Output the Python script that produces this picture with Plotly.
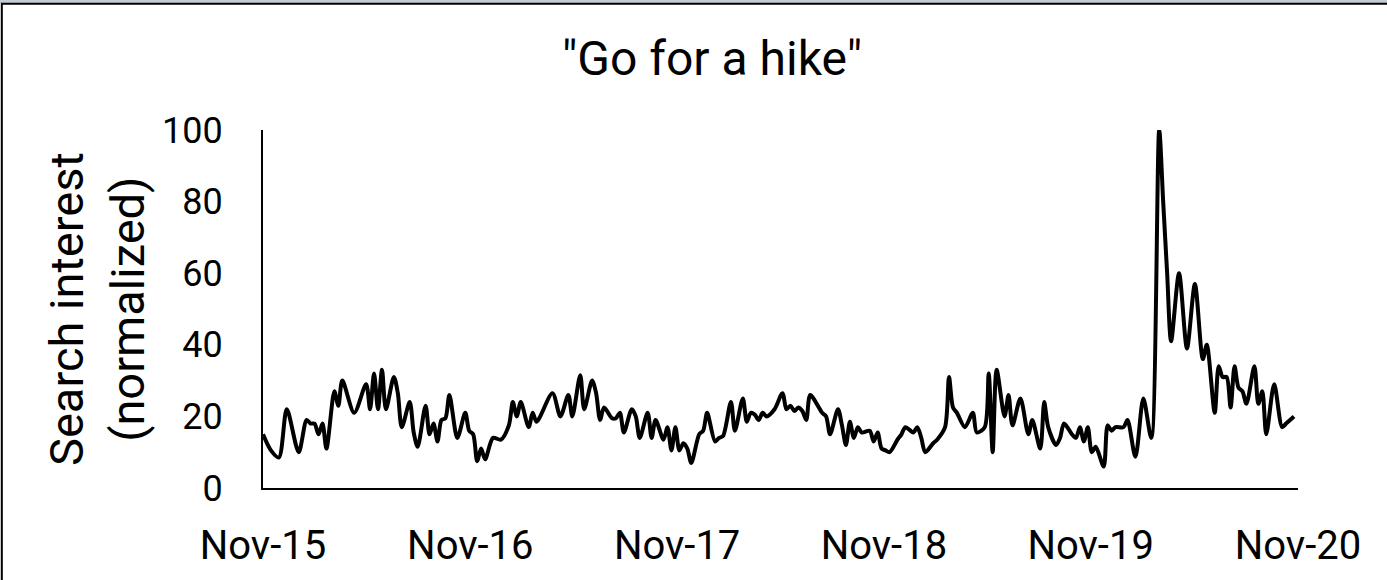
import pandas as pd
import plotly.graph_objects as go

# Weekly Google-Trends style series (week number since 2015-11-08, value)
start_date = "2015-11-08"
week_number = [0, 2, 4, 6, 9, 11, 12, 13, 14, 15, 16, 18, 19, 20, 23, 26, 27, 28, 29, 30, 31,
               33, 34, 35, 37, 38, 39, 41, 42, 43, 44, 45, 46, 47, 49, 51, 52, 53, 54, 55, 56,
               58, 60, 62, 63, 64, 65, 67, 68, 69, 73, 75, 77, 78, 80, 81, 83, 84, 85, 86, 88,
               89, 90, 91, 93, 94, 95, 97, 98, 99, 101, 102, 103, 104, 105, 106, 107, 108, 110,
               111, 112, 114, 115, 116, 118, 119, 121, 122, 123, 124, 125, 126, 127, 129, 131,
               132, 133, 134, 135, 136, 137, 138, 141, 142, 143, 145, 146, 147, 148, 149, 150,
               151, 153, 154, 155, 156, 157, 158, 160, 161, 162, 164, 165, 166, 167, 169, 170,
               172, 173, 174, 175, 177, 179, 180, 182, 183, 184, 185, 187, 188, 189, 191, 193,
               194, 196, 197, 198, 200, 201, 202, 204, 205, 206, 207, 208, 209, 210, 212, 213,
               214, 215, 217, 218, 220, 222, 224, 226, 227, 228, 229, 231, 233, 235, 237, 238,
               240, 241, 242, 243, 244, 245, 246, 247, 248, 250, 251, 252, 253, 255, 257, 258,
               259, 260]
search_interest = [15, 10.5, 8.5, 22, 10, 19, 18, 18, 15, 18, 11, 27, 23, 30, 21, 29, 22, 32, 22, 33, 22,
                   31, 26.5, 17, 24, 15.5, 11.5, 23, 15, 18, 13, 19, 19.5, 26, 14, 21, 16, 15, 7.5, 11, 8,
                   14, 13.5, 17.5, 24, 20, 24, 17, 21, 18.5, 26.5, 20, 26, 20, 31.5, 22, 30, 26.5, 19, 22.5, 19.5,
                   19.5, 21, 15.5, 22, 20, 14, 21, 14, 19, 13.5, 17, 10.5, 17, 10.5, 12.5, 11, 7, 15,
                   16, 21, 13, 14, 14.5, 24, 16, 25, 18.5, 21, 20.5, 19, 21, 20, 22, 26.5,
                   22, 23, 21.5, 22.5, 21.5, 19, 26, 21, 20, 15, 22, 17.5, 12, 18.5, 14, 17,
                   15.5, 16, 13, 15.5, 11, 10.5, 10, 13.5, 15, 17, 15.5, 17, 14, 10, 12.5, 13.5,
                   17, 31, 22.5, 21, 17, 21, 15.5, 17, 32, 10, 33, 20, 26, 17.5, 25, 15,
                   19, 11, 24, 17, 12, 14, 18, 15, 14, 17, 13, 17, 10, 11.5, 6, 17.5,
                   16, 17, 17, 19, 8.7, 25, 14, 100, 80, 60, 41, 60, 39, 57, 36, 40,
                   21, 34, 31, 31, 22.5, 34, 28, 27, 23.5, 34, 23.5, 27, 15, 29, 17, 18,
                   19, 20]

chart_title = '"Go for a hike"'
y_title = "Search interest<br>(normalized)"
x_start, x_end = "2015-11-08", "2020-11-08"

dates = pd.Timestamp(start_date) + pd.to_timedelta([w * 7 for w in week_number], unit="D")

FONT = "Roboto"

fig = go.Figure()
fig.add_trace(go.Scatter(
    x=dates, y=search_interest, mode="lines",
    line=dict(color="black", width=4, shape="spline", smoothing=0.8),
    showlegend=False, hoverinfo="x+y",
))

fig.update_layout(
    width=1387, height=580,
    paper_bgcolor="white", plot_bgcolor="white",
    margin=dict(l=263, r=89, t=130, b=92),
    font=dict(family=FONT, color="black"),
    title=dict(text=chart_title, x=712 / 1387, xanchor="center", xref="container",
               y=1 - 58 / 580, yanchor="middle", yref="container",
               font=dict(family=FONT, size=48, color="black")),
    showlegend=False,
)

fig.update_xaxes(
    type="date", range=[x_start, x_end],
    tick0=x_start, dtick="M12", tickformat="%b-%y",
    showgrid=False, zeroline=False,
    showline=True, linecolor="black", linewidth=2,
    ticks="", ticklabelstandoff=21,
    tickfont=dict(family=FONT, size=40, color="black"),
)
fig.update_yaxes(
    range=[0, 100], dtick=20,
    showgrid=False, zeroline=False,
    showline=True, linecolor="black", linewidth=2,
    ticks="", ticklabelstandoff=31,
    tickfont=dict(family=FONT, size=36, color="black"),
)

# y-axis title as rotated annotation
fig.add_annotation(
    text=y_title, xref="paper", yref="paper",
    x=(97 - 263) / 1035, y=0.5, xanchor="center", yanchor="middle",
    textangle=-90, showarrow=False,
    font=dict(family=FONT, size=47, color="black"),
)

# chart-area border (top grey strip and black frame as in the reference)
fig.add_shape(type="rect", xref="paper", yref="paper",
              x0=(0 - 263) / 1035, x1=(2000 - 263) / 1035,
              y0=(488 - 3) / 358, y1=(488 + 2) / 358,
              fillcolor="#c3cbd3", line=dict(width=0), layer="below")
fig.add_shape(type="rect", xref="paper", yref="paper",
              x0=(1.8 - 263) / 1035, x1=(2000 - 263) / 1035,
              y0=(488 - 900) / 358, y1=(488 - 3.8) / 358,
              fillcolor="rgba(0,0,0,0)", line=dict(color="black", width=2), layer="below")

fig.write_html("out.html", config={"displayModeBar": False},
               post_script="document.body.style.margin='0px';document.body.style.overflow='hidden';")
